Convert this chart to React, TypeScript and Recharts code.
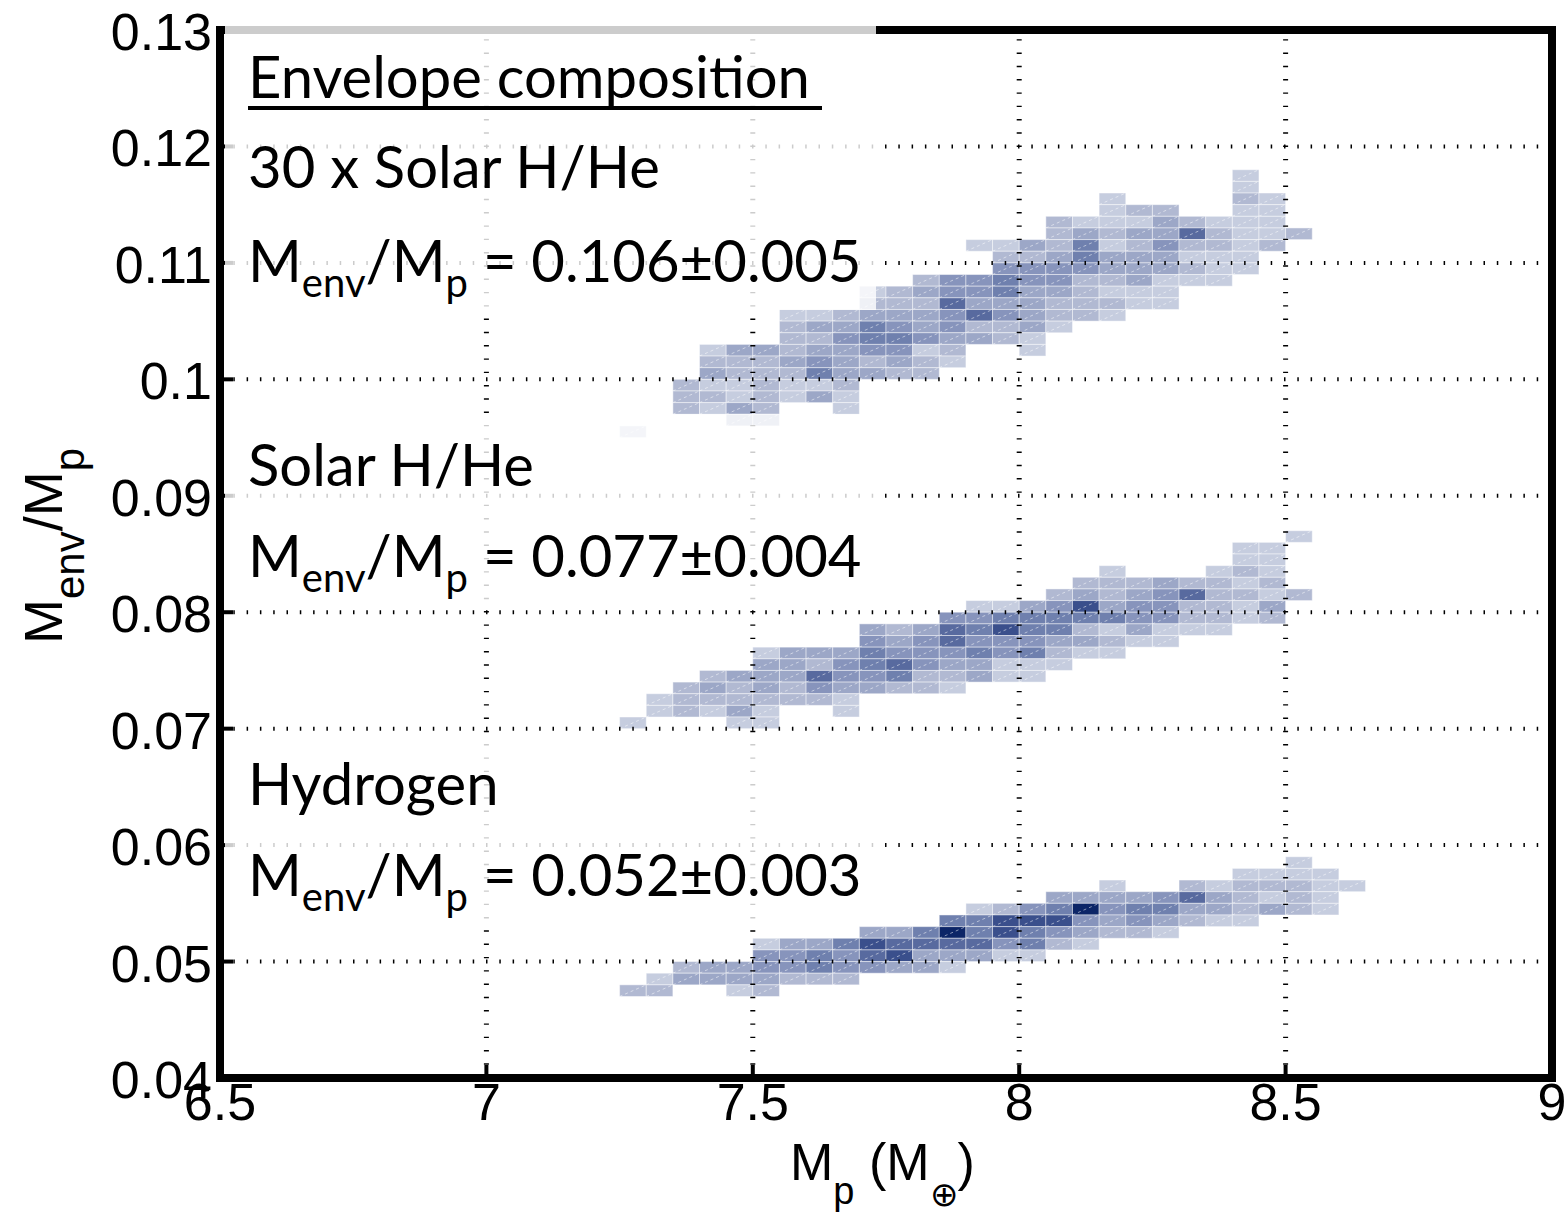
import { ComposedChart, XAxis, YAxis, ReferenceArea, ReferenceLine } from "recharts";

const xTicks = [6.5, 7, 7.5, 8, 8.5, 9];
const yTicks = [0.04, 0.05, 0.06, 0.07, 0.08, 0.09, 0.1, 0.11, 0.12, 0.13];
const xGrid = [7, 7.5, 8, 8.5];
const yGrid = [0.05, 0.06, 0.07, 0.08, 0.09, 0.1, 0.11, 0.12];

const binWidth = 0.05;
const binHeight = 0.001;

// each row: [lower edge of M_env/M_p bin, first M_p bin, density level per bin (0 = empty)]
type Row = [number, number, number[]];

const thirtySolarRows: Row[] = [
  [0.117, 8.4, [2]],
  [0.116, 8.4, [2]],
  [0.115, 8.15, [2, 0, 0, 0, 0, 3, 2]],
  [0.114, 8.15, [2, 3, 3, 0, 0, 2, 2]],
  [0.113, 8.05, [3, 2, 2, 2, 4, 3, 2, 2, 2]],
  [0.112, 8.05, [3, 4, 3, 4, 4, 7, 3, 2, 2, 3]],
  [0.111, 7.9, [2, 2, 4, 3, 6, 2, 3, 5, 3, 3, 2, 3]],
  [0.11, 7.95, [3, 3, 4, 6, 4, 4, 4, 2, 2, 2]],
  [0.109, 7.95, [5, 5, 5, 5, 4, 4, 4, 3, 2, 2]],
  [0.108, 7.8, [3, 5, 5, 6, 5, 5, 3, 3, 4, 2, 2, 2]],
  [0.107, 7.7, [2, 3, 4, 5, 5, 6, 4, 4, 3, 2, 2, 2]],
  [0.106, 7.7, [3, 3, 3, 7, 4, 4, 4, 3, 3, 3, 2, 2]],
  [0.105, 7.55, [2, 2, 3, 4, 4, 4, 5, 7, 5, 4, 3, 3, 2]],
  [0.104, 7.55, [3, 4, 4, 6, 5, 4, 5, 3, 3, 4, 2]],
  [0.103, 7.55, [3, 3, 5, 6, 6, 5, 4, 4, 3, 2]],
  [0.102, 7.4, [2, 4, 4, 3, 4, 4, 5, 5, 2, 3, 0, 0, 2]],
  [0.101, 7.4, [3, 3, 3, 4, 5, 4, 3, 4, 3, 2]],
  [0.1, 7.4, [4, 3, 3, 3, 6, 4, 4, 3, 3]],
  [0.099, 7.35, [3, 2, 2, 3, 2, 2, 3]],
  [0.098, 7.35, [3, 3, 2, 3, 2, 4, 2]],
  [0.097, 7.35, [3, 2, 4, 3, 0, 0, 2]],
  [0.096, 7.45, [3, 3]],
  [0.095, 7.25, [2]],
];

const solarRows: Row[] = [
  [0.086, 8.5, [2]],
  [0.085, 8.4, [2, 2]],
  [0.084, 8.4, [2, 2]],
  [0.083, 8.15, [2, 0, 0, 0, 2, 3, 2]],
  [0.082, 8.1, [3, 3, 3, 4, 3, 3, 2, 3]],
  [0.081, 8.05, [3, 4, 3, 4, 5, 7, 3, 3, 2, 3]],
  [0.08, 7.9, [2, 2, 4, 5, 8, 4, 5, 5, 3, 3, 2, 4]],
  [0.079, 7.85, [5, 5, 6, 6, 6, 6, 6, 5, 5, 3, 3, 2, 3]],
  [0.078, 7.7, [4, 3, 4, 7, 6, 8, 6, 6, 3, 2, 4, 2, 2, 2]],
  [0.077, 7.7, [5, 4, 5, 7, 5, 5, 5, 4, 4, 3, 2, 2]],
  [0.076, 7.5, [2, 4, 4, 4, 6, 5, 5, 5, 6, 5, 6, 3, 2, 2]],
  [0.075, 7.5, [4, 4, 3, 5, 6, 7, 5, 4, 4, 2, 2, 2]],
  [0.074, 7.4, [3, 4, 4, 4, 7, 5, 5, 6, 3, 3, 4, 2, 2]],
  [0.073, 7.35, [3, 4, 3, 4, 3, 5, 4, 4, 3, 3, 2]],
  [0.072, 7.3, [2, 3, 3, 3, 3, 3, 3, 2]],
  [0.071, 7.3, [2, 3, 2, 4, 2, 0, 0, 2]],
  [0.07, 7.25, [2, 0, 0, 0, 2, 2]],
];

const hydrogenRows: Row[] = [
  [0.058, 8.5, [2]],
  [0.057, 8.4, [2, 2, 2, 2]],
  [0.056, 8.15, [2, 0, 0, 3, 2, 3, 3, 3, 2, 2]],
  [0.055, 8.05, [4, 4, 4, 4, 5, 7, 4, 3, 2, 3, 2]],
  [0.054, 7.9, [2, 3, 5, 6, 9, 5, 6, 6, 4, 4, 3, 4, 3, 2]],
  [0.053, 7.85, [6, 6, 8, 8, 8, 5, 4, 5, 4, 3, 2, 2]],
  [0.052, 7.7, [4, 4, 6, 9, 6, 8, 6, 5, 4, 3, 3, 2]],
  [0.051, 7.5, [2, 4, 4, 6, 8, 7, 7, 7, 7, 5, 6, 3, 2]],
  [0.05, 7.5, [5, 5, 6, 5, 7, 8, 4, 4, 4, 2, 2]],
  [0.049, 7.35, [3, 4, 4, 5, 5, 6, 5, 5, 4, 4, 2]],
  [0.048, 7.3, [2, 4, 4, 4, 4, 3, 3, 3]],
  [0.047, 7.25, [3, 3, 0, 0, 2, 3]],
];

const levelColors = ["#ffffff", "#e9ecf3", "#c6cddf", "#b1b9d2", "#9ca7c7", "#8794bc", "#6f80ae", "#586a9f", "#3a4f8c", "#0c2567"];

const round = (v: number, d: number) => Math.round(v * d) / d;

function toCells(rows: Row[]) {
  const cells: { x1: number; x2: number; y1: number; y2: number; level: number }[] = [];
  rows.forEach(([y, x0, levels]) => {
    levels.forEach((level, i) => {
      if (!level) return;
      const x1 = round(x0 + i * binWidth, 100);
      cells.push({ x1, x2: round(x1 + binWidth, 100), y1: y, y2: round(y + binHeight, 1000), level });
    });
  });
  return cells;
}

const cells = [...toCells(thirtySolarRows), ...toCells(solarRows), ...toCells(hydrogenRows)];

const axisFont = "'Liberation Sans', Arial, sans-serif";
const noteFont = "Lato, 'Open Sans', sans-serif";

function CellShape(props: any) {
  const { x, y, width, height, fill } = props;
  return (
    <g>
      <rect x={x} y={y} width={width} height={height} fill={fill} stroke="#ffffff" strokeOpacity={0.45} strokeWidth={1} />
      <line x1={x} y1={y + height} x2={x + width} y2={y} stroke="#ffffff" strokeOpacity={0.5} strokeWidth={1} strokeDasharray="3 3" />
    </g>
  );
}

function BottomTick(props: any) {
  const { x, y, payload } = props;
  return (
    <g>
      <line x1={x} y1={y} x2={x} y2={y - 13} stroke="#000" strokeWidth={4} />
      <text x={x} y={y + 42} textAnchor="middle" fontSize={52} fontFamily={axisFont} fill="#000">
        {payload.value}
      </text>
    </g>
  );
}

function TopTick(props: any) {
  const { x, y } = props;
  return <line x1={x} y1={y} x2={x} y2={y + 13} stroke="#000" strokeWidth={4} />;
}

function LeftTick(props: any) {
  const { x, y, payload } = props;
  return (
    <g>
      <line x1={x} y1={y} x2={x + 13} y2={y} stroke="#000" strokeWidth={4} />
      <text x={x - 8} y={y + 20} textAnchor="end" fontSize={52} fontFamily={axisFont} fill="#000">
        {payload.value}
      </text>
    </g>
  );
}

function RightTick(props: any) {
  const { x, y } = props;
  return <line x1={x} y1={y} x2={x - 13} y2={y} stroke="#000" strokeWidth={4} />;
}

function Ratio({ y, value }: { y: number; value: string }) {
  return (
    <text x={248} y={y} fontSize={58} fontFamily={noteFont} fill="#000">
      M
      <tspan fontSize={40} dy={15}>env</tspan>
      <tspan dy={-15}>/M</tspan>
      <tspan fontSize={40} dy={15}>p</tspan>
      <tspan dy={-15}>{` = ${value}`}</tspan>
    </text>
  );
}

export default function App() {
  return (
    <div style={{ position: "absolute", left: 0, top: 0, width: 1566, height: 1217, background: "#fff" }}>
      <ComposedChart width={1566} height={1217} margin={{ top: 30, right: 14, bottom: 0, left: 0 }}>
        <XAxis
          type="number"
          dataKey="x"
          domain={[6.5, 9]}
          ticks={xTicks}
          interval={0}
          allowDataOverflow
          height={139}
          axisLine={false}
          tickLine={false}
          tickSize={0}
          tickMargin={0}
          tick={<BottomTick />}
        />
        <XAxis
          xAxisId="top"
          orientation="top"
          type="number"
          domain={[6.5, 9]}
          ticks={xTicks}
          interval={0}
          allowDataOverflow
          height={0}
          axisLine={false}
          tickLine={false}
          tickSize={0}
          tickMargin={0}
          tick={<TopTick />}
        />
        <YAxis
          type="number"
          domain={[0.04, 0.13]}
          ticks={yTicks}
          interval={0}
          allowDataOverflow
          width={220}
          axisLine={false}
          tickLine={false}
          tickSize={0}
          tickMargin={0}
          tick={<LeftTick />}
        />
        <YAxis
          yAxisId="right"
          orientation="right"
          type="number"
          domain={[0.04, 0.13]}
          ticks={yTicks}
          interval={0}
          allowDataOverflow
          width={0}
          axisLine={false}
          tickLine={false}
          tickSize={0}
          tickMargin={0}
          tick={<RightTick />}
        />
        {cells.map((c, i) => (
          <ReferenceArea
            key={`cell-${i}`}
            x1={c.x1}
            x2={c.x2}
            y1={c.y1}
            y2={c.y2}
            fill={levelColors[c.level]}
            fillOpacity={1}
            shape={<CellShape />}
          />
        ))}
        {xGrid.map((v) => (
          <ReferenceLine key={`gx-${v}`} x={v} stroke="#000" strokeWidth={5} strokeDasharray="1.4 11.9" />
        ))}
        {yGrid.map((v) => (
          <ReferenceLine key={`gy-${v}`} y={v} stroke="#000" strokeWidth={4} strokeDasharray="1.5 11.8" />
        ))}
        <ReferenceArea x1={6.5} x2={9} y1={0.04} y2={0.13} fill="none" stroke="#000" strokeWidth={8} ifOverflow="visible" />
      </ComposedChart>

      <svg width={1566} height={1217} style={{ position: "absolute", left: 0, top: 0, pointerEvents: "none" }}>
        <rect x={225} y={24} width={651} height={286} fill="#fff" fillOpacity={0.8} />
        <rect x={225} y={414} width={651} height={191} fill="#fff" fillOpacity={0.8} />
        <rect x={225} y={737} width={651} height={186} fill="#fff" fillOpacity={0.8} />

        <text x={248} y={98} fontSize={58} fontFamily={noteFont} fill="#000">
          Envelope composition
        </text>
        <line x1={248} y1={108} x2={822} y2={108} stroke="#000" strokeWidth={4} />
        <text x={248} y={188} fontSize={58} fontFamily={noteFont} fill="#000">
          30 x Solar H/He
        </text>
        <Ratio y={282} value="0.106±0.005" />
        <text x={248} y={486} fontSize={58} fontFamily={noteFont} fill="#000">
          Solar H/He
        </text>
        <Ratio y={577} value="0.077±0.004" />
        <text x={248} y={805} fontSize={58} fontFamily={noteFont} fill="#000">
          Hydrogen
        </text>
        <Ratio y={896} value="0.052±0.003" />

        <text x={790} y={1180} fontSize={52} fontFamily={axisFont} fill="#000">
          M
          <tspan fontSize={38} dy={24}>p</tspan>
          <tspan dy={-24}> (M</tspan>
          <tspan fontSize={34} dy={26}>⊕</tspan>
          <tspan dy={-26}>)</tspan>
        </text>
        <text
          x={0}
          y={0}
          transform="translate(62 546) rotate(-90)"
          textAnchor="middle"
          fontSize={54}
          fontFamily={axisFont}
          fill="#000"
        >
          M
          <tspan fontSize={42} dy={22}>env</tspan>
          <tspan dy={-22}>/M</tspan>
          <tspan fontSize={42} dy={22}>p</tspan>
        </text>
      </svg>
    </div>
  );
}
